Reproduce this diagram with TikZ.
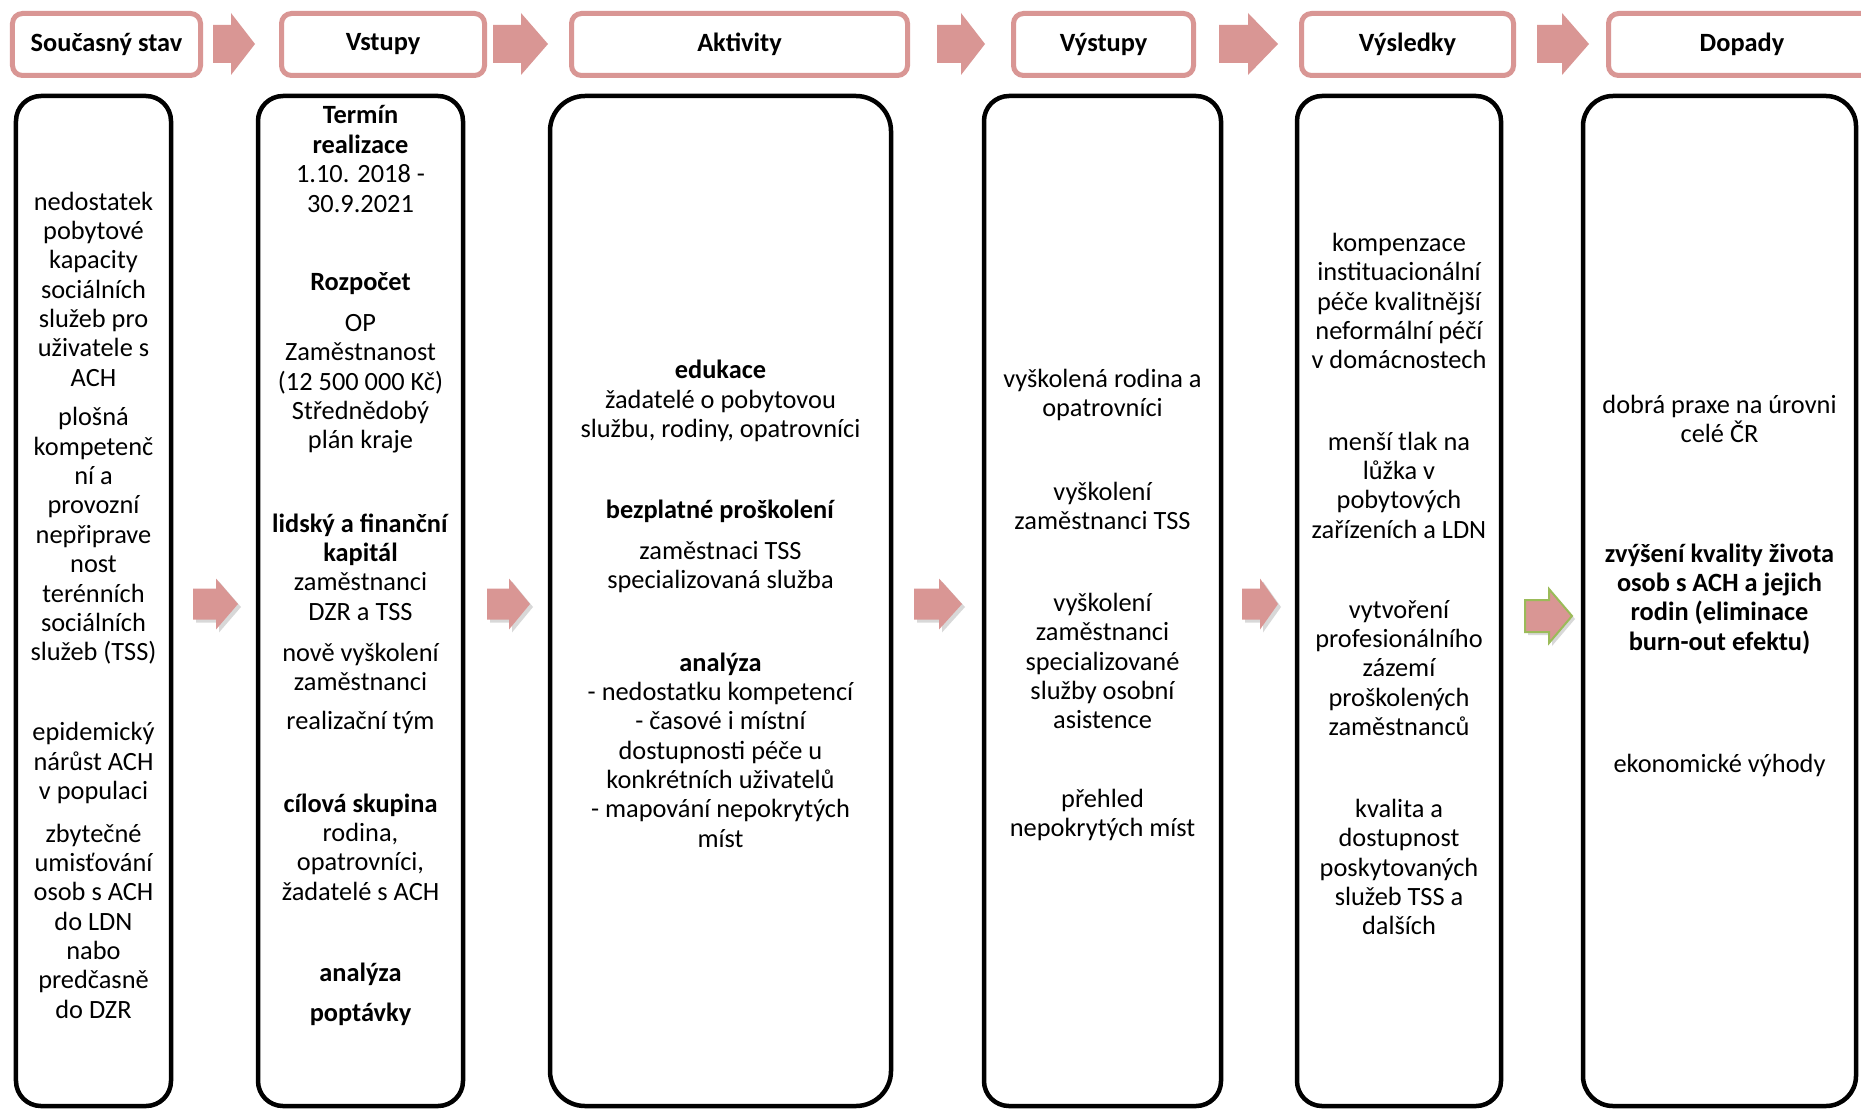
\documentclass[tikz,border=0pt]{standalone}
\usepackage{fontspec}
\setmainfont{Carlito}
\usetikzlibrary{shadows}
\definecolor{rosy}{HTML}{D99694}
\definecolor{leaf}{HTML}{9BBB59}
\newcommand{\flowarrow}[7]{%
	\path[#1] (#2,#5-#6) -- (#3,#5-#6) -- (#3,#5-#7) -- (#4,#5) -- (#3,#5+#7) -- (#3,#5+#6) -- (#2,#5+#6) -- cycle;}

\begin{document}
\begin{tikzpicture}[x=0.2mm, y=-0.2mm,
		head/.style = {draw=rosy, line width=1mm, rounded corners=2mm, fill=white, minimum height=12.4mm, inner sep=0, font=\fontsize{15}{18}\selectfont\bfseries},
		panel/.style = {draw, line width=0.9mm, rounded corners=5mm, minimum height=202mm, inner sep=0},
		txt/.style = {align=center, inner sep=0, yshift=-0.4mm, font=\fontsize{15}{16.7}\selectfont},
		toparrow/.style = {fill=rosy},
		midarrow/.style = {fill=rosy, drop shadow={shadow xshift=0.6mm, shadow yshift=-0.6mm, opacity=0.3}}]
		\useasboundingbox[fill=white] (0,0) rectangle (1861,1110);
		\node[head, minimum width=37.6mm] (h1) at (106.5,44.5) {Současný stav};
		\node[head, minimum width=40.6mm] (h2) at (383,44.5) {Vstupy};
		\node[head, minimum width=67.2mm] (h3) at (739.5,44.5) {Aktivity};
		\node[head, minimum width=36mm] (h4) at (1103.5,44.5) {Výstupy};
		\node[head, minimum width=42.4mm] (h5) at (1407.5,44.5) {Výsledky};
		\node[head, minimum width=53.4mm] (h6) at (1742,44.5) {Dopady};
		\flowarrow{toparrow}{213}{231}{255}{44}{19}{31}
		\flowarrow{toparrow}{493}{521}{548}{44}{19}{31}
		\flowarrow{toparrow}{937}{961}{985}{44}{19}{31}
		\flowarrow{toparrow}{1219}{1248}{1278}{44}{19}{31}
		\flowarrow{toparrow}{1537}{1562}{1589}{44}{19}{31}
		\node[panel, minimum width=31mm] (b1) at (93.5,601) {};
		\node[panel, minimum width=41mm] (b2) at (360.5,601) {};
		\node[panel, minimum width=68.2mm, rounded corners=7mm] (b3) at (720.5,601) {};
		\node[panel, minimum width=47.4mm] (b4) at (1102.5,601) {};
		\node[panel, minimum width=40.8mm] (b5) at (1399,601) {};
		\node[panel, minimum width=54.6mm, rounded corners=6mm] (b6) at (1719.5,601) {};
		\flowarrow{midarrow}{193}{216}{238}{604}{15.5}{25.5}
		\flowarrow{midarrow}{487}{509}{530}{604}{15.5}{25.5}
		\flowarrow{midarrow}{914}{939}{962}{604}{15.5}{25.5}
		\flowarrow{midarrow}{1242}{1260}{1278}{604}{15.5}{25.5}
		\flowarrow{midarrow, draw=leaf, line width=0.4mm}{1525}{1549}{1572}{616}{16}{27}
		\node[txt] (s1) at (93.5,287) {nedostatek\\pobytové\\kapacity\\sociálních\\služeb pro\\uživatele s\\ACH};
		\node[txt] (s2) at (93.5,534) {plošná\\kompetenč\\ní a\\provozní\\nepřiprave\\nost\\terénních\\sociálních\\služeb (TSS)};
		\node[txt] (s3) at (93.5,761) {epidemický\\nárůst ACH\\v populaci};
		\node[txt] (s4) at (93.5,919) {zbytečné\\umisťování\\osob s ACH\\do LDN\\nabo\\predčasně\\do DZR};
		\node[txt] (v1) at (360.5,157) {\textbf{Termín}\\\textbf{realizace}\\1.10. 2018 -\\30.9.2021};
		\node[txt] (v2) at (360.5,282) {\textbf{Rozpočet}};
		\node[txt] (v3) at (360.5,382) {OP\\Zaměstnanost\\(12 500 000 Kč)\\Střednědobý\\plán kraje};
		\node[txt] (v4) at (360.5,565) {\textbf{lidský a finanční}\\\textbf{kapitál}\\zaměstnanci\\DZR a TSS};
		\node[txt] (v5) at (360.5,665) {nově vyškolení\\zaměstnanci};
		\node[txt] (v6) at (360.5,720) {realizační tým};
		\node[txt] (v7) at (360.5,845) {\textbf{cílová skupina}\\rodina,\\opatrovníci,\\žadatelé s ACH};
		\node[txt] (v8) at (360.5,972) {\textbf{analýza}};
		\node[txt] (v9) at (360.5,1012) {\textbf{poptávky}};
		\node[txt] (a1) at (720.5,399) {\textbf{edukace}\\žadatelé o pobytovou\\službu, rodiny, opatrovníci};
		\node[txt] (a2) at (720.5,509) {\textbf{bezplatné proškolení}};
		\node[txt] (a3) at (720.5,565) {zaměstnaci TSS\\specializovaná služba};
		\node[txt] (a4) at (720.5,748) {\textbf{analýza}\\- nedostatku kompetencí\\- časové i místní\\dostupnosti péče u\\konkrétních uživatelů\\- mapování nepokrytých\\míst};
		\node[txt] (o1) at (1102.5,393) {vyškolená rodina a\\opatrovníci};
		\node[txt] (o2) at (1102.5,504) {vyškolení\\zaměstnanci TSS};
		\node[txt] (o3) at (1102.5,659) {vyškolení\\zaměstnanci\\specializované\\služby osobní\\asistence};
		\node[txt] (o4) at (1102.5,813) {přehled\\nepokrytých míst};
		\node[txt] (r1) at (1399,299) {kompenzace\\instituacionální\\péče kvalitnější\\neformální péčí\\v domácnostech};
		\node[txt] (r2) at (1399,483) {menší tlak na\\lůžka v\\pobytových\\zařízeních a LDN};
		\node[txt] (r3) at (1399,666) {vytvoření\\profesionálního\\zázemí\\proškolených\\zaměstnanců};
		\node[txt] (r4) at (1399,865) {kvalita a\\dostupnost\\poskytovaných\\služeb TSS a\\dalších};
		\node[txt] (d1) at (1719.5,417) {dobrá praxe na úrovni\\celé ČR};
		\node[txt] (d2) at (1719.5,597) {\textbf{zvýšení kvality života}\\\textbf{osob s ACH a jejich}\\\textbf{rodin (eliminace}\\\textbf{burn-out efektu)}};
		\node[txt] (d3) at (1719.5,763) {ekonomické výhody};
	\end{tikzpicture}
\end{document}
